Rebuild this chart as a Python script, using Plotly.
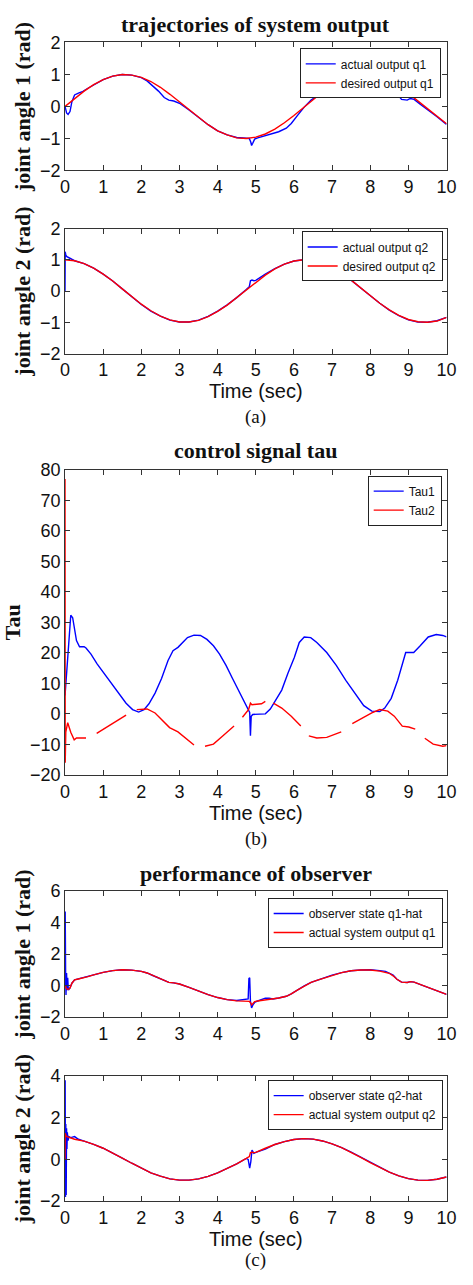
import plotly.graph_objects as go

# ---------------- data ----------------
# (a) joint angle 1
t_des = [0, 0.25, 0.5, 0.75, 1.0, 1.25, 1.5, 1.75, 2.0, 2.25, 2.5, 2.75, 3.0, 3.25, 3.5, 3.75,
         4.0, 4.25, 4.5, 4.75, 5.0, 5.25, 5.5, 5.75, 6.0, 6.25, 6.5, 6.75, 7.0, 7.25, 7.5, 7.75,
         8.0, 8.25, 8.5, 8.75, 9.0, 9.25, 9.5, 9.75, 10.0]
q1_desired = [0.00, 0.25, 0.48, 0.68, 0.84, 0.95, 1.00, 0.98, 0.91, 0.78, 0.60, 0.38, 0.14, -0.11,
              -0.35, -0.57, -0.76, -0.89, -0.98, -1.00, -0.96, -0.86, -0.71, -0.51, -0.28, -0.03,
              0.22, 0.45, 0.66, 0.82, 0.94, 0.99, 0.99, 0.92, 0.80, 0.63, 0.41, 0.17, -0.08, -0.32, -0.54]
q2_desired = [1.00, 0.97, 0.88, 0.73, 0.54, 0.32, 0.07, -0.18, -0.42, -0.63, -0.80, -0.92, -0.99,
              -0.99, -0.94, -0.82, -0.65, -0.45, -0.21, 0.04, 0.28, 0.51, 0.71, 0.86, 0.96, 1.00,
              0.98, 0.90, 0.75, 0.57, 0.35, 0.10, -0.15, -0.39, -0.60, -0.78, -0.91, -0.98, -1.00,
              -0.96, -0.84]

t_q1 = [0, 0.04, 0.08, 0.13, 0.18, 0.25, 0.35, 0.47, 0.6, 0.75, 1.0, 1.25, 1.5, 1.75, 2.0, 2.15,
        2.3, 2.45, 2.6, 2.72, 2.85, 3.0, 3.25, 3.5, 3.75, 4.0, 4.25, 4.5, 4.75, 4.83, 4.87, 4.89,
        4.92, 4.97, 5.05, 5.35, 5.6, 5.8, 5.93, 6.1, 6.27, 6.45, 6.6, 6.75, 7.0, 7.25, 7.5, 7.75,
        8.0, 8.25, 8.5, 8.6, 8.7, 8.82, 8.97, 9.05, 9.15, 9.3, 9.5, 9.75, 10.0]
q1_actual = [0.00, -0.20, -0.25, -0.16, 0.15, 0.36, 0.42, 0.47, 0.57, 0.68, 0.84, 0.95, 1.00, 0.98,
             0.90, 0.80, 0.64, 0.48, 0.28, 0.20, 0.17, 0.10, -0.11, -0.35, -0.57, -0.76, -0.89,
             -0.97, -0.99, -1.00, -1.12, -1.22, -1.15, -1.02, -0.98, -0.88, -0.79, -0.68, -0.53,
             -0.27, -0.02, 0.20, 0.33, 0.45, 0.66, 0.82, 0.94, 0.99, 0.99, 0.92, 0.78, 0.62, 0.40,
             0.22, 0.20, 0.25, 0.22, 0.08, -0.09, -0.32, -0.56]

t_q2 = [0, 0.005, 0.02, 0.05, 0.12, 0.2, 0.25, 0.5, 0.75, 1.0, 1.25, 1.5, 1.75, 2.0, 2.25, 2.5,
        2.75, 3.0, 3.25, 3.5, 3.75, 4.0, 4.25, 4.5, 4.75, 4.83, 4.86, 4.9, 4.95, 5.0, 5.25, 5.5,
        5.75, 6.0, 6.25, 6.5, 6.75, 7.0, 7.25, 7.5, 7.75, 8.0, 8.25, 8.5, 8.75, 9.0, 9.25, 9.5,
        9.75, 10.0]
q2_actual = [0.00, 1.26, 1.15, 1.10, 1.06, 1.02, 0.97, 0.88, 0.73, 0.54, 0.32, 0.07, -0.18, -0.43,
             -0.64, -0.80, -0.93, -0.99, -0.99, -0.93, -0.81, -0.64, -0.44, -0.21, 0.05, 0.14,
             0.33, 0.35, 0.33, 0.34, 0.54, 0.72, 0.86, 0.96, 1.00, 0.98, 0.89, 0.75, 0.57, 0.35,
             0.10, -0.15, -0.39, -0.61, -0.79, -0.92, -0.99, -1.00, -0.95, -0.84]

# (b) control signal
t_tau1 = [0, 0.03, 0.08, 0.15, 0.2, 0.3, 0.38, 0.5, 0.55, 0.68, 0.84, 1.1, 1.35, 1.6, 1.77, 1.93,
          2.07, 2.2, 2.36, 2.53, 2.7, 2.83, 2.96, 3.08, 3.21, 3.38, 3.55, 3.72, 3.89, 4.05, 4.22,
          4.39, 4.56, 4.73, 4.8, 4.84, 4.86, 4.88, 4.92, 5.15, 5.25, 5.38, 5.5, 5.68, 5.84, 6.01,
          6.14, 6.27, 6.44, 6.6, 6.86, 7.11, 7.36, 7.62, 7.83, 8.04, 8.25, 8.38, 8.55, 8.72, 8.84,
          8.93, 9.05, 9.14, 9.31, 9.52, 9.73, 9.9, 10.0]
tau1 = [6.0, 12.0, 21.0, 32.3, 31.5, 24.0, 22.0, 22.0, 21.6, 19.6, 16.4, 12.1, 7.8, 3.5, 1.4, 0.6,
        1.4, 3.3, 6.8, 11.6, 17.5, 20.7, 21.8, 23.4, 25.0, 25.8, 25.7, 24.4, 22.3, 19.6, 15.9,
        11.6, 7.3, 3.5, 1.4, 0.5, -7.2, -0.8, -0.2, -0.2, 0.0, 1.6, 4.1, 7.8, 13.2, 18.5, 23.4,
        25.2, 25.0, 23.4, 20.1, 15.9, 11.0, 6.2, 2.7, 0.9, 0.75, 1.9, 5.1, 11.0, 16.4, 20.1, 20.1,
        20.1, 22.3, 25.2, 26.0, 25.7, 25.2]

# None marks the breaks seen in the red trace
t_tau2 = [0, 0.005, 0.02, 0.07, 0.15, 0.24, 0.3, 0.55, None, 0.83, 1.22, 1.6, None, 1.88, 2.15,
          2.36, 2.53, 2.74, 2.96, 3.17, 3.38, None, 3.67, 3.89, 4.14, 4.43, None, 4.65, 4.81, 4.86,
          4.9, 5.15, 5.25, None, 5.46, 5.68, 5.93, 6.18, None, 6.39, 6.6, 6.86, 7.24, None, 7.53,
          7.79, 8.04, 8.25, 8.46, 8.63, 8.84, 9.01, 9.18, None, 9.43, 9.65, 9.9, 10.0]
tau2 = [77, -16, -6, -2.9, -6, -8.5, -7.9, -7.9, None, -6.4, -3.4, -0.4, None, 1.4, 1.6, 0.3, -1.8,
        -4.5, -5.9, -8.0, -10.2, None, -10.6, -9.9, -7.2, -4.0, None, -1.1, 1.4, 3.5, 3.0, 3.3,
        4.1, None, 3.5, 1.9, -0.75, -4.0, None, -7.2, -7.9, -7.7, -5.9, None, -3.2, -1.3, 0.3,
        1.4, 0.9, -0.75, -4.0, -4.3, -5.0, None, -8.0, -9.9, -10.6, -10.4]

# (c) observer
t_q1hat = [0, 0.005, 0.015, 0.025, 0.04, 0.055, 0.07, 0.085, 0.1, 0.13, 0.18, 0.25, 0.35, 0.47, 0.6,
           0.75, 1.0, 1.25, 1.5, 1.75, 2.0, 2.15, 2.3, 2.45, 2.6, 2.72, 2.85, 3.0, 3.25, 3.5, 3.75,
           4.0, 4.25, 4.5, 4.7, 4.8, 4.82, 4.84, 4.86, 4.89, 4.93, 4.98, 5.05, 5.25, 5.35, 5.45, 5.6,
           5.8, 5.93, 6.1, 6.27, 6.45, 6.6, 6.75, 7.0, 7.25, 7.5, 7.75, 8.0, 8.25, 8.4, 8.6, 8.7,
           8.82, 8.97, 9.05, 9.15, 9.3, 9.5, 9.75, 10.0]
q1_hat = [0.00, 4.7, 0.9, -0.6, 0.8, -0.3, 0.5, -0.2, -0.25, -0.15, 0.15, 0.36, 0.42, 0.47, 0.57,
          0.68, 0.84, 0.95, 1.00, 0.98, 0.90, 0.80, 0.64, 0.48, 0.28, 0.20, 0.17, 0.10, -0.11,
          -0.35, -0.57, -0.76, -0.89, -0.95, -0.88, -0.85, 0.45, 0.5, -1.0, -1.42, -1.2, -1.05,
          -0.98, -0.80, -0.80, -0.85, -0.79, -0.68, -0.53, -0.27, -0.02, 0.20, 0.33, 0.45, 0.66,
          0.82, 0.94, 0.99, 1.00, 0.95, 0.90, 0.66, 0.40, 0.22, 0.20, 0.25, 0.22, 0.08, -0.09,
          -0.32, -0.56]

t_q2hat = [0, 0.004, 0.012, 0.02, 0.03, 0.04, 0.05, 0.06, 0.08, 0.1, 0.15, 0.25, 0.35, 0.5, 0.75,
           1.0, 1.25, 1.5, 1.75, 2.0, 2.25, 2.5, 2.75, 3.0, 3.25, 3.5, 3.75, 4.0, 4.25, 4.5, 4.75,
           4.8, 4.84, 4.87, 4.9, 4.95, 5.0, 5.25, 5.5, 5.75, 6.0, 6.25, 6.5, 6.75, 7.0, 7.25, 7.5,
           7.75, 8.0, 8.25, 8.5, 8.75, 9.0, 9.25, 9.5, 9.75, 10.0]
q2_hat = [0.00, 3.8, -1.8, 1.7, -1.7, 1.5, 0.5, 1.3, 0.9, 1.1, 1.05, 1.1, 0.97, 0.88, 0.73, 0.54,
          0.32, 0.07, -0.18, -0.43, -0.64, -0.80, -0.93, -0.99, -0.99, -0.93, -0.81, -0.64, -0.44,
          -0.21, 0.05, 0.0, -0.42, -0.1, 0.45, 0.30, 0.34, 0.50, 0.72, 0.86, 0.96, 1.00, 0.98, 0.89,
          0.75, 0.57, 0.35, 0.10, -0.15, -0.39, -0.61, -0.79, -0.92, -0.99, -1.00, -0.95, -0.84]

x_ticks = [0, 1, 2, 3, 4, 5, 6, 7, 8, 9, 10]

# ---------------- layout geometry ----------------
W, H = 473, 1285
def py(p):  # window pixel row -> paper y
    return 1 - p / H
def px(p):
    return p / W

X_DOM = [px(62), px(456)]
panels = [  # (top px, bottom px)
    (33, 163), (222, 349), (467, 777), (895, 1023), (1083, 1210)
]

BLUE = "#0000ff"
RED = "#ff0000"
SANS = "Liberation Sans, Arial, sans-serif"
SERIF = "Liberation Serif, Times New Roman, serif"

fig = go.Figure()

def add(x, y, color, name, idx, leg):
    fig.add_trace(go.Scatter(
        x=x, y=y, mode="lines", name=name, line=dict(color=color, width=1.4),
        xaxis="x" if idx == 1 else f"x{idx}", yaxis="y" if idx == 1 else f"y{idx}",
        legend=leg, connectgaps=False))

add(t_q1, q1_actual, BLUE, "actual output q1", 1, "legend")
add(t_des, q1_desired, RED, "desired output q1", 1, "legend")
add(t_q2, q2_actual, BLUE, "actual output q2", 2, "legend2")
add(t_des, q2_desired, RED, "desired output q2", 2, "legend2")
add(t_tau1, tau1, BLUE, "Tau1", 3, "legend3")
add(t_tau2, tau2, RED, "Tau2", 3, "legend3")
add(t_q1hat, q1_hat, BLUE, "observer state q1-hat", 4, "legend4")
add(t_q1, q1_actual, RED, "actual system output q1", 4, "legend4")
add(t_q2hat, q2_hat, BLUE, "observer state q2-hat", 5, "legend5")
add(t_q2, q2_actual, RED, "actual system output q2", 5, "legend5")

y_ranges = [(-2, 2, 1), (-2, 2, 1), (-20, 80, 10), (-2, 6, 2), (-2, 4, 2)]
y_titles = ["joint angle 1 (rad)", "joint angle 2 (rad)", "Tau", "joint angle 1 (rad)", "joint angle 2 (rad)"]
x_titles = [None, "Time (sec)", "Time (sec)", None, "Time (sec)"]

axis_common = dict(
    showline=True, linecolor="#333333", linewidth=1, mirror="ticks",
    ticks="inside", ticklen=5, tickcolor="#333333", tickwidth=1,
    showgrid=False, zeroline=False,
    tickfont=dict(family=SANS, size=18, color="#111111"),
)

layout = {}
for i, ((top, bot), (y0, y1, dy), yt, xt) in enumerate(zip(panels, y_ranges, y_titles, x_titles), start=1):
    xa = "xaxis" if i == 1 else f"xaxis{i}"
    ya = "yaxis" if i == 1 else f"yaxis{i}"
    xref = "x" if i == 1 else f"x{i}"
    yref = "y" if i == 1 else f"y{i}"
    layout[xa] = dict(axis_common, domain=X_DOM, range=[0, 10], tickvals=x_ticks,
                      anchor=yref,
                      title=dict(text=xt, font=dict(family=SANS, size=20, color="#111111"),
                                 standoff=0) if xt else None)
    yticks = list(range(y0, y1 + 1, dy))
    layout[ya] = dict(axis_common, domain=[py(bot), py(top)], range=[y0, y1], tickvals=yticks,
                      anchor=xref,
                      title=dict(text=yt, font=dict(family=SERIF, size=22, color="#111111",
                                                    weight="bold"), standoff=3))

legend_common = dict(xanchor="right", yanchor="top", bgcolor="white", bordercolor="#222222",
                     borderwidth=1, font=dict(family=SANS, size=12, color="#111111"),
                     tracegroupgap=0, itemwidth=30)
layout["legend"] = dict(legend_common, x=px(450), y=py(39))
layout["legend2"] = dict(legend_common, x=px(452), y=py(225))
layout["legend3"] = dict(legend_common, x=px(451), y=py(473))
layout["legend4"] = dict(legend_common, x=px(452), y=py(902))
layout["legend5"] = dict(legend_common, x=px(452), y=py(1087))

fig.update_layout(
    width=W, height=H, margin=dict(l=0, r=0, t=0, b=0),
    paper_bgcolor="white", plot_bgcolor="white", showlegend=True,
    **layout,
)

xc = px(259)
titles = [("trajectories of system output", 15), ("control signal tau", 447),
          ("performance of observer", 877)]
for text, yp in titles:
    fig.add_annotation(text=f"<b>{text}</b>", x=xc, y=py(yp), xref="paper", yref="paper",
                       showarrow=False, xanchor="center", yanchor="middle",
                       font=dict(family=SERIF, size=22, color="#111111"))
for text, yp in [("(a)", 413), ("(b)", 842), ("(c)", 1270)]:
    fig.add_annotation(text=text, x=xc, y=py(yp), xref="paper", yref="paper",
                       showarrow=False, xanchor="center", yanchor="middle",
                       font=dict(family=SERIF, size=19, color="#111111"))

# remove the default page margin so the figure fills the window exactly; hide the mode bar
fig.write_html("out.html", config={"displayModeBar": False},
               post_script="document.body.style.margin='0';")
